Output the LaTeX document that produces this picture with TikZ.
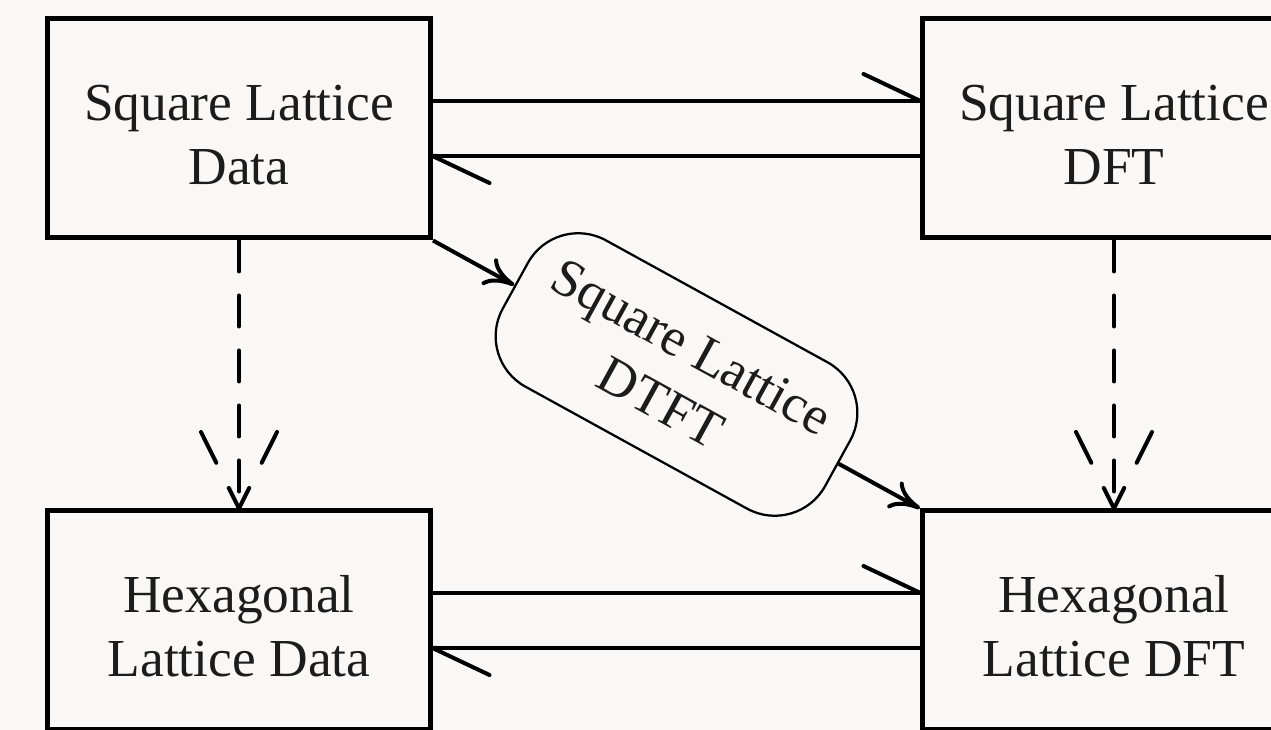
\documentclass[tikz,border=0pt]{standalone}
\usepackage{fontspec}
\setmainfont{Liberation Serif}
\usetikzlibrary{calc}
\usetikzlibrary{arrows.meta}

\definecolor{paper}{RGB}{249,248,247}
\definecolor{ink}{RGB}{28,28,28}

\def\lwblk{0.1cm}
\def\lw{0.08cm}
\def\offset{0.55cm}

\tikzset{
  box/.style={draw=black,line width=\lwblk,minimum width=7.66cm,minimum height=4.38cm,
    align=center,text=ink,text height=2.26cm,font=\fontsize{30.4}{36.6}\selectfont},
  dtftbox/.style={draw=black,line width=0.045cm,rounded corners=1.15cm,fill=paper,
    minimum width=7.36cm,minimum height=3.34cm,align=center,text=ink,
    font=\fontsize{30.4}{36.6}\selectfont},
  harp/.style={line width=\lw,shorten >=-0.05cm,-{Straight Barb[left,length=1.14cm,width=1.08cm,round]}},
  diag/.style={line width=\lw,-{Computer Modern Rightarrow[length=0.6cm,width=0.6cm]}},
  dashline/.style={line width=\lw,line cap=round,dash pattern=on 0.62cm off 0.48cm},
  dashhead/.style={line width=\lw,line cap=round,dash pattern=on 0.46cm off 0.56cm on 1cm off 0.5cm}
}

\begin{document}
\begin{tikzpicture}
\fill[paper] (0,0) rectangle (25.42,14.6);
\useasboundingbox (0,0) rectangle (25.42,14.6);

\node[box] (sqdata)  at (4.78,12.03)  {Square Lattice\\Data};
\node[box] (sqdft)   at (22.28,12.03) {Square Lattice\\DFT};
\node[box] (hexdata) at (4.78,2.19)   {Hexagonal\\Lattice Data};
\node[box] (hexdft)  at (22.28,2.19)  {Hexagonal\\Lattice DFT};

% DFT and inverse DFT
\draw[harp] ([yshift= \offset]sqdata.east) -- ([yshift= \offset]sqdft.west);
\draw[harp] ([yshift=-\offset]sqdft.west) -- ([yshift=-\offset]sqdata.east);
\draw[harp] ([yshift= \offset]hexdata.east) -- ([yshift= \offset]hexdft.west);
\draw[harp] ([yshift=-\offset]hexdft.west) -- ([yshift=-\offset]hexdata.east);

% resampling
\draw[dashline] (sqdata.south) -- (hexdata.north);
\draw[dashhead] (hexdata.north) -- ($(hexdata.north)+(-0.76,1.53)$);
\draw[dashhead] (hexdata.north) -- ($(hexdata.north)+( 0.76,1.53)$);

\draw[dashline] (sqdft.south) -- (hexdft.north);
\draw[dashhead] (hexdft.north) -- ($(hexdft.north)+(-0.76,1.53)$);
\draw[dashhead] (hexdft.north) -- ($(hexdft.north)+( 0.76,1.53)$);

% DTFT shortcut
\path (sqdata.south east) -- node[dtftbox,sloped] (dtft) {Square Lattice\\DTFT} (hexdft.north west);
\draw[diag] (sqdata.south east) -- (dtft);
\draw[diag] (dtft) -- (hexdft.north west);

\end{tikzpicture}
\end{document}
